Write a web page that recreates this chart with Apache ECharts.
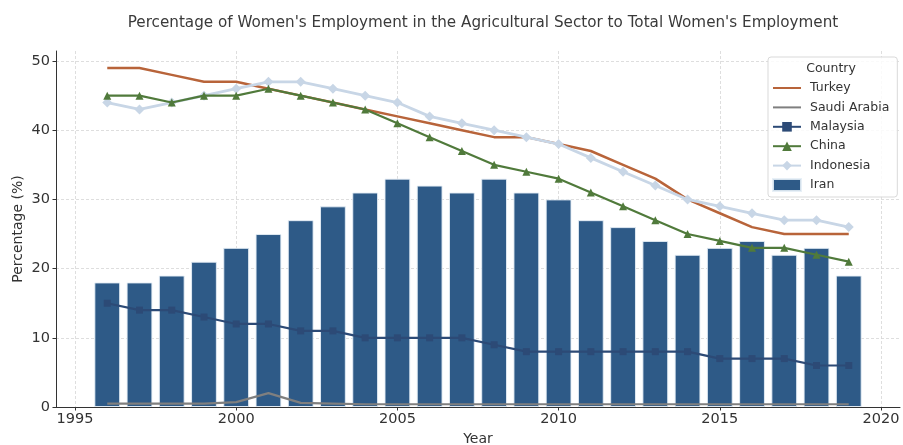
<!DOCTYPE html>
<html>
<head>
<meta charset="utf-8">
<script src="https://cdn.jsdelivr.net/npm/echarts@6/dist/echarts.min.js"></script>
<style>
html,body{margin:0;padding:0;background:#fff;}
#chart{width:903px;height:445px;}
</style>
</head>
<body>
<div id="chart"></div>
<script>
const years = [1996,1997,1998,1999,2000,2001,2002,2003,2004,2005,2006,2007,2008,2009,2010,2011,2012,2013,2014,2015,2016,2017,2018,2019];
const turkey = [49,49,48,47,47,46,45,44,43,42,41,40,39,39,38,37,35,33,30,28,26,25,25,25];
const saudiArabia = [0.5,0.5,0.5,0.5,0.7,2,0.6,0.5,0.4,0.4,0.4,0.4,0.4,0.4,0.4,0.4,0.4,0.4,0.4,0.4,0.4,0.4,0.4,0.4];
const malaysia = [15,14,14,13,12,12,11,11,10,10,10,10,9,8,8,8,8,8,8,7,7,7,6,6];
const china = [45,45,44,45,45,46,45,44,43,41,39,37,35,34,33,31,29,27,25,24,23,23,22,21];
const indonesia = [44,43,44,45,46,47,47,46,45,44,42,41,40,39,38,36,34,32,30,29,28,27,27,26];
const iran = [18,18,19,21,23,25,27,29,31,33,32,31,33,31,30,27,26,24,22,23,24,22,23,19];
const xTicks = [1995,2000,2005,2010,2015,2020];
const yTicks = [0,10,20,30,40,50];

const pair = arr => years.map((y,i)=>[y,arr[i]]);
const FONT = 'DejaVu Sans';
const chart = echarts.init(document.getElementById('chart'), null, {renderer:'canvas'});
const gridLine = {show:true, lineStyle:{color:'#d5d5d5', type:[3,2], width:0.8}};
const noSymbol = {color:'rgba(0,0,0,0)', borderWidth:0, borderColor:'rgba(0,0,0,0)'};
chart.setOption({
  animation:false,
  backgroundColor:'#fff',
  textStyle:{fontFamily:FONT},
  title:{
    text:"Percentage of Women's Employment in the Agricultural Sector to Total Women's Employment",
    left:478, top:11, textAlign:'center',
    textStyle:{fontFamily:FONT, fontSize:15.2, fontWeight:'normal', color:'#3a3a3a'}
  },
  grid:{left:56, right:3, top:51, bottom:38, containLabel:false, outerBoundsMode:'none'},
  xAxis:{
    type:'value', min:1994.41, max:2020.59,
    name:'Year', nameLocation:'middle', nameGap:25, nameMoveOverlap:false,
    nameTextStyle:{fontFamily:FONT, fontSize:14, color:'#333'},
    axisLine:{show:true, onZero:false, lineStyle:{color:'#333', width:1}},
    axisTick:{show:true, length:3.5, customValues:xTicks, lineStyle:{color:'#333'}},
    axisLabel:{customValues:xTicks, formatter:v=>String(v), fontFamily:FONT, fontSize:14.5, color:'#333', margin:4.5},
    splitLine:gridLine
  },
  yAxis:{
    type:'value', min:0, max:51.45,
    name:'Percentage (%)', nameLocation:'middle', nameGap:31, nameRotate:90, nameMoveOverlap:false,
    nameTextStyle:{fontFamily:FONT, fontSize:14, color:'#333'},
    axisLine:{show:true, lineStyle:{color:'#333', width:1}},
    axisTick:{show:true, length:3.5, customValues:yTicks, lineStyle:{color:'#333'}},
    axisLabel:{customValues:yTicks, fontFamily:FONT, fontSize:14.5, color:'#333', margin:6},
    splitLine:gridLine
  },
  legend:{
    orient:'vertical', left:768, top:57,
    padding:[24,8,5,4],
    itemWidth:28, itemHeight:12, itemGap:5.4,
    backgroundColor:'rgba(255,255,255,0.85)', borderColor:'#d9d9d9', borderWidth:1, borderRadius:3,
    textStyle:{fontFamily:FONT, fontSize:12.5, color:'#333', lineHeight:14, padding:[0,0,0,4]},
    data:[
      {name:'Turkey', itemStyle:noSymbol},{name:'Saudi Arabia', itemStyle:noSymbol},
      {name:'Malaysia'},{name:'China'},{name:'Indonesia'},
      {name:'Iran', icon:'rect'}
    ]
  },
  graphic:[{
    type:'text', x:831, y:69, z:100,
    style:{text:'Country', fontFamily:FONT, fontSize:12.5, fill:'#333', textAlign:'center', textVerticalAlign:'middle'}
  }],
  series:[
    {name:'Iran', type:'bar', data:pair(iran), barWidth:25.8, z:1,
     itemStyle:{color:'#2e5a87', borderColor:'rgba(230,238,246,0.9)', borderWidth:1}},
    {name:'Turkey', type:'line', data:pair(turkey), symbol:'none', z:3,
     lineStyle:{color:'#b8643a', width:2.5}, itemStyle:{color:'#b8643a'}},
    {name:'Saudi Arabia', type:'line', data:pair(saudiArabia), symbol:'none', z:3,
     lineStyle:{color:'#7f7f7f', width:2.2}, itemStyle:{color:'#7f7f7f'}},
    {name:'Malaysia', type:'line', data:pair(malaysia), symbol:'rect', symbolSize:7, z:3,
     lineStyle:{color:'#2c4a76', width:2.2}, itemStyle:{color:'#2c4a76'}},
    {name:'China', type:'line', data:pair(china), symbol:'triangle', symbolSize:8, z:4,
     lineStyle:{color:'#507a3b', width:2.2}, itemStyle:{color:'#507a3b'}},
    {name:'Indonesia', type:'line', data:pair(indonesia), symbol:'diamond', symbolSize:10, z:3,
     lineStyle:{color:'#c8d6e6', width:2.8}, itemStyle:{color:'#c8d6e6'}}
  ]
});
</script>
</body>
</html>
